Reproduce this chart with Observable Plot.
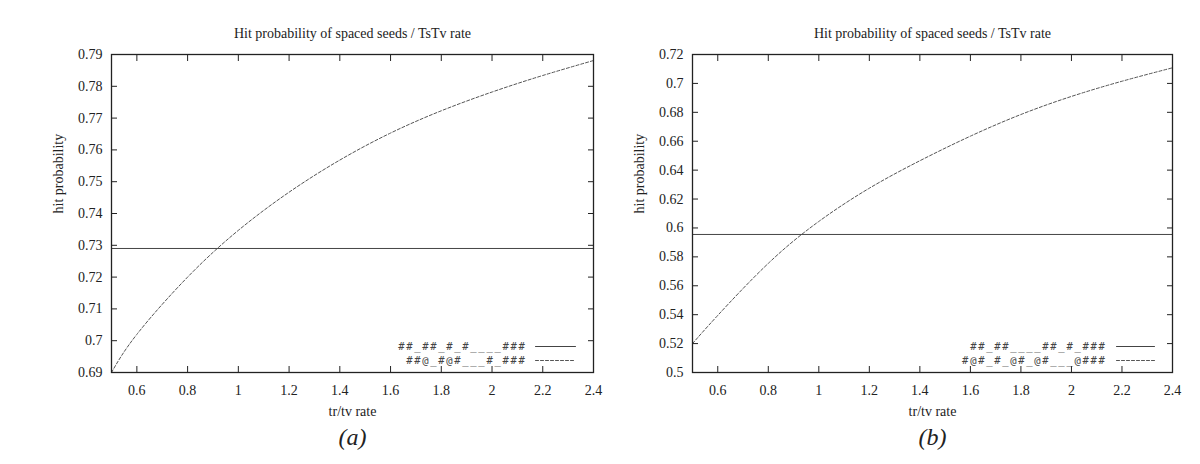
<!DOCTYPE html>
<html>
<head>
<meta charset="utf-8">
<script src="https://cdn.jsdelivr.net/npm/d3@7"></script>
<script src="https://cdn.jsdelivr.net/npm/@observablehq/plot@0.6"></script>
<style>
  html, body { margin: 0; padding: 0; background: #fff; }
  #wrap { display: flex; width: 1200px; height: 464px; }
  #wrap svg { overflow: visible; }
</style>
</head>
<body>
<div id="wrap"></div>
<script>
// ---- data ----
const titleText = "Hit probability of spaced seeds / TsTv rate";
const xLabelText = "tr/tv rate";
const yLabelText = "hit probability";
const panelLabels = ["(a)", "(b)"];

const rates = [0.5, 0.6, 0.8, 1.0, 1.2, 1.4, 1.6, 1.8, 2.0, 2.2, 2.4];
const curveA = [0.690, 0.7020, 0.7200, 0.7347, 0.7467, 0.7568, 0.7653, 0.7723, 0.7782, 0.7834, 0.7881];
const curveB = [0.520, 0.5395, 0.5755, 0.6045, 0.6275, 0.6465, 0.6635, 0.6785, 0.6910, 0.7015, 0.7108];
const flatA = 0.729;
const flatB = 0.5955;

const seedsA = ["##_##_#_#____###", "##@_#@#___#_###"];
const seedsB = ["##_##____##_#_###", "#@#_#_@#_@#___@###"];

const xTicks = [0.6, 0.8, 1, 1.2, 1.4, 1.6, 1.8, 2, 2.2, 2.4];
const yTicksA = [0.69, 0.70, 0.71, 0.72, 0.73, 0.74, 0.75, 0.76, 0.77, 0.78, 0.79];
const yTicksB = [0.50, 0.52, 0.54, 0.56, 0.58, 0.60, 0.62, 0.64, 0.66, 0.68, 0.70, 0.72];
const xDomain = [0.5, 2.4];
const yDomainA = [0.69, 0.79];
const yDomainB = [0.50, 0.72];

// ---- drawing ----
const SERIF = "'Liberation Serif', 'Times New Roman', serif";
const MONO = "'DejaVu Sans Mono', monospace";
const fmt = d => String(+d.toFixed(3));
const none = () => "";
const segShape = { draw(ctx, l) { ctx.moveTo(0, 0); ctx.lineTo(0, -l); } };

function panel({curve, flat, seeds, yTicks, yDomain, label, mL, mR, legTextDx, legLineDx, legLen}) {
  const pts = rates.map((r, i) => ({x: r, y: curve[i]}));
  const svg = Plot.plot({
    width: 600,
    height: 464,
    marginTop: 54,
    marginBottom: 92,
    marginLeft: mL,
    marginRight: mR,
    style: {fontFamily: SERIF, fontSize: "14px", color: "#222", overflow: "visible"},
    x: {domain: xDomain},
    y: {domain: yDomain},
    marks: [
      Plot.ruleY([flat], {stroke: "#444", strokeWidth: 1}),
      Plot.line(pts, {x: "x", y: "y", curve: "natural", stroke: "#555", strokeWidth: 1, strokeDasharray: "3,2"}),
      Plot.axisX({anchor: "bottom", ticks: xTicks, tickSize: -6, tickPadding: 19, tickFormat: fmt, label: null, stroke: "#222", fontFamily: SERIF, fontSize: 14}),
      Plot.axisX({anchor: "top", ticks: xTicks, tickSize: -6, tickFormat: none, label: null, stroke: "#222"}),
      Plot.axisY({anchor: "left", ticks: yTicks, tickSize: -6, tickPadding: 15, tickFormat: fmt, label: null, stroke: "#222", fontFamily: SERIF, fontSize: 14}),
      Plot.axisY({anchor: "right", ticks: yTicks, tickSize: -6, tickFormat: none, label: null, stroke: "#222"}),
      Plot.frame({stroke: "#222", strokeWidth: 1.3}),
      Plot.text([titleText], {frameAnchor: "top", dy: -17, lineAnchor: "bottom", fontSize: 14, fontFamily: SERIF}),
      Plot.text([yLabelText], {frameAnchor: "left", dx: -53, rotate: -90, fontSize: 14, fontFamily: SERIF}),
      Plot.text([xLabelText], {frameAnchor: "bottom", dy: 39, lineAnchor: "middle", fontSize: 14, fontFamily: SERIF}),
      Plot.text([label], {frameAnchor: "bottom", dy: 65, lineAnchor: "middle", fontSize: 24, fontStyle: "italic", fontFamily: SERIF}),
      Plot.text([seeds[0]], {frameAnchor: "bottom-right", dx: legTextDx, dy: -26, textAnchor: "end", lineAnchor: "middle", fontFamily: MONO, fontSize: 10.5, fill: "#444"}),
      Plot.text([seeds[1]], {frameAnchor: "bottom-right", dx: legTextDx, dy: -12, textAnchor: "end", lineAnchor: "middle", fontFamily: MONO, fontSize: 10.5, fill: "#444"}),
      Plot.vector([0], {frameAnchor: "bottom-right", dx: legLineDx, dy: -26, length: legLen, rotate: 90, anchor: "start", shape: segShape, stroke: "#444", strokeWidth: 1}),
      Plot.vector([0], {frameAnchor: "bottom-right", dx: legLineDx, dy: -12, length: legLen, rotate: 90, anchor: "start", shape: segShape, stroke: "#555", strokeWidth: 1, strokeDasharray: "3,2"})
    ]
  });
  d3.select(svg).selectAll("text")
    .filter(function () { return seeds.includes(this.textContent); })
    .style("letter-spacing", "1.7px");
  return svg;
}

const wrap = document.getElementById("wrap");
wrap.append(panel({curve: curveA, flat: flatA, seeds: seedsA, yTicks: yTicksA, yDomain: yDomainA, label: panelLabels[0], mL: 111, mR: 7, legTextDx: -67, legLineDx: -58, legLen: 40}));
wrap.append(panel({curve: curveB, flat: flatB, seeds: seedsB, yTicks: yTicksB, yDomain: yDomainB, label: panelLabels[1], mL: 92, mR: 28, legTextDx: -66, legLineDx: -56, legLen: 38}));
</script>
</body>
</html>
